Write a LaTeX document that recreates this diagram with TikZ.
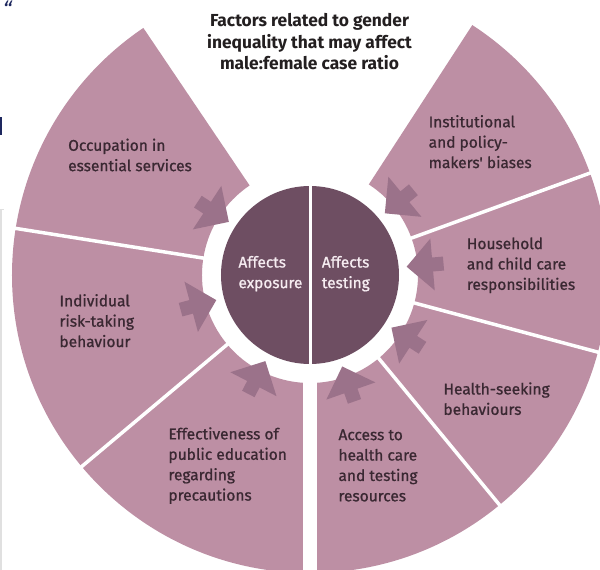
\documentclass[tikz,border=0pt]{standalone}
\usepackage{fontspec}
\setmainfont{Fira Sans}
\newfontfamily\semib{Fira Sans}[FakeBold=0.9]
\definecolor{sectc}{RGB}{189,143,164}
\definecolor{arrc}{RGB}{155,114,138}
\definecolor{circc}{RGB}{110,78,98}
\definecolor{labc}{RGB}{58,40,50}
\definecolor{titc}{RGB}{35,31,32}
\definecolor{navyc}{RGB}{30,40,95}
\newcommand\fatarrow[1]{\fill[arrc, shift={(#1:97)}, rotate=#1+180] (0,0) -- (-26,26) -- (-26,7) -- (-37,7) -- (-37,-7) -- (-26,-7) -- (-26,-26) -- cycle;}
\tikzset{
  lab/.style={anchor=west, align=left, inner sep=0pt, text=labc, font={\semib\fontsize{15.5}{20.4}\selectfont}},
  inlab/.style={anchor=west, align=left, inner sep=0pt, text={rgb,255:red,246;green,236;blue,241}, font={\semib\fontsize{15.4}{20.6}\selectfont}},
  titlab/.style={align=center, inner sep=0pt, text=titc, font={\fontsize{17.4}{21.7}\selectfont\bfseries}},
  sepline/.style={white, line width=3.5pt}
}
\begin{document}
\begin{tikzpicture}[x=1pt,y=1pt]
\useasboundingbox (-310,-295) rectangle (290,275);
\clip (-310,-295) rectangle (290,275);
\fill[white] (-310,-295) rectangle (290,275);
% sector groups
\fill[sectc] (124:108) arc[start angle=124,end angle=270,radius=108] -- (270:298) arc[start angle=270,end angle=124,radius=298] -- cycle;
\fill[sectc] (57:108) arc[start angle=57,end angle=-90,radius=108] -- (-90:298) arc[start angle=-90,end angle=57,radius=298] -- cycle;
\fill[white] (-7,-320) rectangle (7,-60);
% separators
\foreach \a in {171,220,20,-15,-50.5} {\draw[sepline] (\a:100) -- (\a:320);}
% arrows
\fatarrow{146.8}
\fatarrow{195}
\fatarrow{242.6}
\fatarrow{39.5}
\fatarrow{4.9}
\fatarrow{-32.9}
\fatarrow{-70.6}
% centre circle
\fill[circc] (0,0) circle (89);
\draw[white, line width=2.5pt] (0.7,-92) -- (0.7,92);
% texts
\node[titlab] (title) at (-0.5,233.3) {Factors related to gender\\inequality that may affect\\male:female case ratio};
\node[lab] (occ) at (-242,120) {Occupation in\\essential services};
\node[lab] (inst) at (118.5,133.3) {Institutional\\and policy-\\makers' biases};
\node[lab] (house) at (156.7,9.7) {Household\\and child care\\responsibilities};
\node[lab] (indiv) at (-250.7,-45.7) {Individual\\risk-taking\\behaviour};
\node[lab] (eff) at (-141.7,-190.6) {Effectiveness of\\public education\\regarding\\precautions};
\node[lab] (acc) at (28.3,-190.5) {Access to\\health care\\and testing\\resources};
\node[lab] (health) at (133.3,-123.7) {Health-seeking\\behaviours};
\node[inlab] (expo) at (-71.7,1.3) {Affects\\exposure};
\node[inlab] (test) at (11.7,1.3) {Affects\\testing};
% left-edge fragments of the surrounding page
\node[anchor=north west, inner sep=0pt, text=navyc, font={\fontsize{22}{22}\selectfont\itshape}] (quote) at (-307,274.5) {“};
\fill[navyc] (-310,158) rectangle (-307.5,140);
\draw[black!12, line width=1.5pt] (-309,65) -- (-309,-300);
\draw[black!12, line width=1pt] (-310,65) -- (-306,65);
\end{tikzpicture}
\end{document}
